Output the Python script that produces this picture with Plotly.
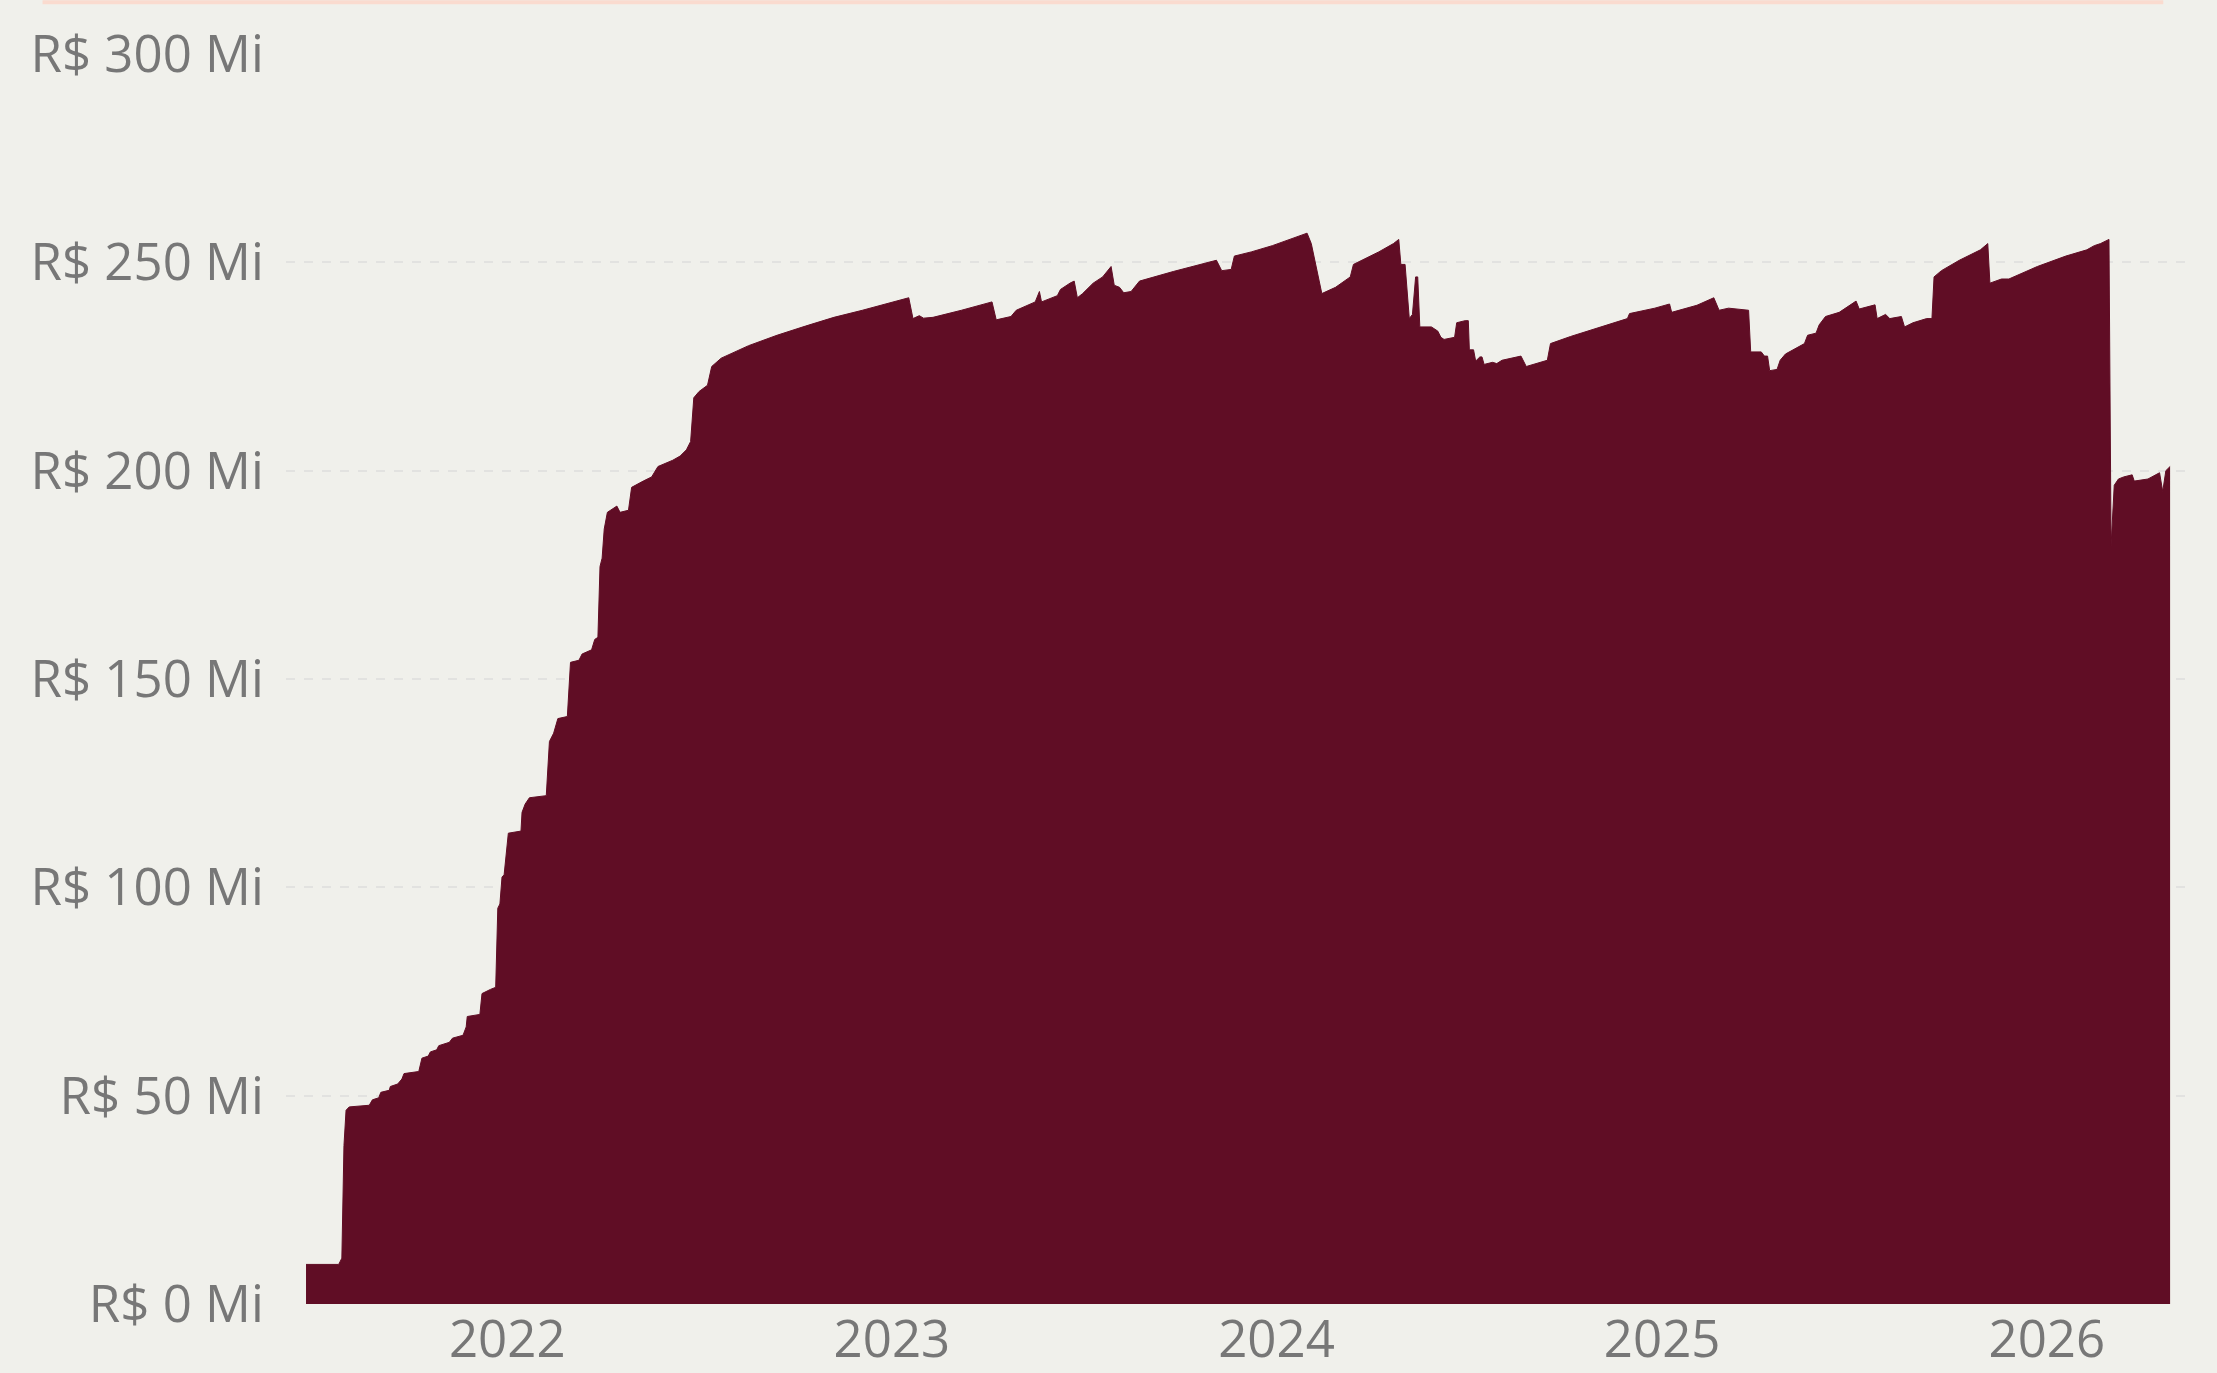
import plotly.graph_objects as go

# ---- data ----
dates = [
    "2021-06-24", "2021-07-25", "2021-07-28", "2021-07-30", "2021-08-01", "2021-08-04",
    "2021-08-23", "2021-08-26", "2021-09-01", "2021-09-03", "2021-09-11", "2021-09-12",
    "2021-09-19", "2021-09-23", "2021-09-25", "2021-10-09", "2021-10-12", "2021-10-18",
    "2021-10-20", "2021-10-26", "2021-10-28", "2021-11-07", "2021-11-10", "2021-11-20",
    "2021-11-23", "2021-11-24", "2021-12-06", "2021-12-08", "2021-12-16", "2021-12-21",
    "2021-12-23", "2021-12-25", "2021-12-27", "2021-12-29", "2022-01-02", "2022-01-14",
    "2022-01-15", "2022-01-18", "2022-01-22", "2022-02-07", "2022-02-10", "2022-02-14",
    "2022-02-18", "2022-02-27", "2022-03-02", "2022-03-10", "2022-03-13", "2022-03-22",
    "2022-03-25", "2022-03-28", "2022-03-30", "2022-04-01", "2022-04-03", "2022-04-06",
    "2022-04-15", "2022-04-18", "2022-04-26", "2022-04-29", "2022-05-10", "2022-05-18",
    "2022-05-24", "2022-06-07", "2022-06-14", "2022-06-20", "2022-06-24", "2022-06-27",
    "2022-07-02", "2022-07-10", "2022-07-14", "2022-07-23", "2022-08-18", "2022-09-14",
    "2022-10-11", "2022-11-07", "2022-12-04", "2022-12-31", "2023-01-17", "2023-01-21",
    "2023-01-27", "2023-01-31", "2023-02-09", "2023-03-08", "2023-04-06", "2023-04-10",
    "2023-04-24", "2023-04-29", "2023-05-17", "2023-05-21", "2023-05-23", "2023-06-07",
    "2023-06-10", "2023-06-19", "2023-06-23", "2023-06-26", "2023-07-01", "2023-07-11",
    "2023-07-20", "2023-07-28", "2023-07-31", "2023-08-05", "2023-08-09", "2023-08-16",
    "2023-08-24", "2023-09-25", "2023-10-22", "2023-11-05", "2023-11-10", "2023-11-19",
    "2023-11-22", "2023-12-08", "2023-12-28", "2024-01-30", "2024-02-03", "2024-02-13",
    "2024-02-26", "2024-03-11", "2024-03-14", "2024-03-18", "2024-04-07", "2024-04-21",
    "2024-04-26", "2024-04-28", "2024-05-02", "2024-05-06", "2024-05-09", "2024-05-12",
    "2024-05-14", "2024-05-16", "2024-05-27", "2024-06-02", "2024-06-05", "2024-06-08",
    "2024-06-18", "2024-06-20", "2024-06-28", "2024-07-01", "2024-07-02", "2024-07-06",
    "2024-07-08", "2024-07-12", "2024-07-14", "2024-07-16", "2024-07-24", "2024-07-28",
    "2024-08-02", "2024-08-20", "2024-08-25", "2024-09-14", "2024-09-17", "2024-10-06",
    "2024-11-02", "2024-11-29", "2024-12-01", "2024-12-25", "2025-01-08", "2025-01-10",
    "2025-02-03", "2025-02-19", "2025-02-24", "2025-03-05", "2025-03-24", "2025-03-26",
    "2025-04-05", "2025-04-08", "2025-04-11", "2025-04-13", "2025-04-20", "2025-04-23",
    "2025-04-28", "2025-05-16", "2025-05-19", "2025-05-27", "2025-05-30", "2025-06-05",
    "2025-06-18", "2025-07-04", "2025-07-07", "2025-07-18", "2025-07-22", "2025-07-24",
    "2025-08-01", "2025-08-05", "2025-08-16", "2025-08-19", "2025-08-27", "2025-09-09",
    "2025-09-14", "2025-09-16", "2025-09-23", "2025-10-10", "2025-10-30", "2025-11-06",
    "2025-11-08", "2025-11-19", "2025-11-26", "2025-12-23", "2026-01-19", "2026-02-08",
    "2026-02-15", "2026-02-21", "2026-03-01", "2026-03-03", "2026-03-06", "2026-03-10",
    "2026-03-15", "2026-03-23", "2026-03-25", "2026-04-07", "2026-04-18", "2026-04-21",
    "2026-04-24", "2026-04-28",
]

values_mi = [
    9.5, 9.5, 11.0, 38.0, 46.5, 47.3,
    47.7, 49.0, 49.5, 50.8, 51.3, 52.2,
    52.8, 54.0, 55.3, 55.8, 59.0, 59.5,
    60.5, 61.0, 62.0, 62.8, 63.8, 64.5,
    66.5, 69.0, 69.5, 74.5, 75.5, 76.0,
    95.0, 96.0, 102.5, 103.0, 113.0, 113.5,
    118.0, 120.0, 121.5, 122.0, 135.0, 137.0,
    140.5, 141.0, 154.0, 154.5, 156.0, 157.0,
    159.5, 160.0, 177.0, 179.0, 186.0, 190.0,
    191.5, 190.0, 190.5, 196.0, 197.5, 198.5,
    201.0, 202.5, 203.5, 205.0, 207.0, 217.5,
    219.0, 220.5, 225.0, 227.0, 230.0, 232.5,
    234.7, 236.8, 238.5, 240.3, 241.5, 236.5,
    237.2, 236.6, 236.8, 238.5, 240.5, 236.2,
    237.0, 238.5, 240.5, 243.0, 240.5, 242.0,
    243.5, 245.0, 245.5, 241.5, 242.5, 245.0,
    246.5, 249.0, 244.5, 244.0, 242.7, 243.0,
    245.5, 247.8, 249.5, 250.5, 248.0, 248.3,
    251.5, 252.5, 254.0, 257.0, 254.5, 242.5,
    244.0, 246.5, 249.5, 250.0, 252.5, 254.5,
    255.5, 249.5, 249.5, 236.5, 237.5, 246.5,
    246.5, 234.5, 234.5, 233.5, 232.0, 231.5,
    232.0, 235.5, 236.0, 236.0, 229.0, 229.0,
    226.3, 227.3, 227.3, 225.5, 226.0, 225.7,
    226.5, 227.5, 225.0, 226.5, 230.5, 232.2,
    234.3, 236.5, 237.7, 239.0, 240.0, 238.0,
    239.7, 241.5, 238.5, 239.0, 238.5, 228.5,
    228.5, 227.5, 227.5, 224.0, 224.3, 226.5,
    228.0, 230.5, 232.5, 233.0, 235.0, 237.0,
    238.0, 240.7, 238.8, 239.5, 239.8, 236.5,
    237.5, 236.5, 237.0, 234.5, 235.5, 236.5,
    236.5, 246.5, 248.0, 250.5, 253.0, 254.5,
    245.0, 246.0, 246.0, 249.0, 251.5, 253.0,
    254.0, 254.5, 255.5, 182.0, 196.5, 198.0,
    198.5, 199.0, 197.5, 198.0, 199.5, 195.0,
    200.0, 201.0,
]

y_tick_values = [0, 50, 100, 150, 200, 250, 300]
y_tick_labels = ["R$ 0 Mi", "R$ 50 Mi", "R$ 100 Mi", "R$ 150 Mi",
                 "R$ 200 Mi", "R$ 250 Mi", "R$ 300 Mi"]
x_tick_values = ["2022-01-01", "2023-01-01", "2024-01-01", "2025-01-01", "2026-01-01"]
x_tick_labels = ["2022", "2023", "2024", "2025", "2026"]

# ---- styling ----
BG = "#F0F0EB"
FILL = "#600D25"
TEXT = "#777777"
GRID = "#E2E2E0"

fig = go.Figure()
fig.add_trace(go.Scatter(
    x=dates, y=values_mi,
    mode="lines",
    line=dict(color=FILL, width=1, shape="linear"),
    fill="tozeroy",
    fillcolor=FILL,
    hoverinfo="skip",
    showlegend=False,
))

fig.update_layout(
    width=2217, height=1373,
    paper_bgcolor=BG, plot_bgcolor=BG,
    margin=dict(l=286, r=29, t=54, b=69, pad=0),
    font=dict(family="Open Sans", size=51, color=TEXT),
    showlegend=False,
    xaxis=dict(
        type="date",
        range=["2021-06-05", "2026-05-15"],
        tickvals=x_tick_values, ticktext=x_tick_labels,
        showgrid=False, zeroline=False, showline=False,
        ticks="", ticklabelstandoff=1,
        tickfont=dict(family="Open Sans", size=51, color=TEXT),
        automargin=False,
    ),
    yaxis=dict(
        range=[0, 300],
        tickvals=y_tick_values, ticktext=y_tick_labels,
        showgrid=True, gridcolor=GRID, gridwidth=2, griddash="dash",
        zeroline=False, showline=False,
        ticks="outside", ticklen=11, tickcolor="rgba(0,0,0,0)",
        tickfont=dict(family="Open Sans", size=51, color=TEXT),
        automargin=False,
    ),
    shapes=[dict(
        type="line", xref="paper", yref="paper",
        x0=-0.128, x1=0.987, y0=1.0415, y1=1.0415,
        line=dict(color="#FADBCF", width=4),
        layer="above",
    )],
)

fig.write_html(
    "out.html",
    config={"displayModeBar": False},
    post_script="document.body.style.margin='0';document.body.style.overflow='hidden';",
)
